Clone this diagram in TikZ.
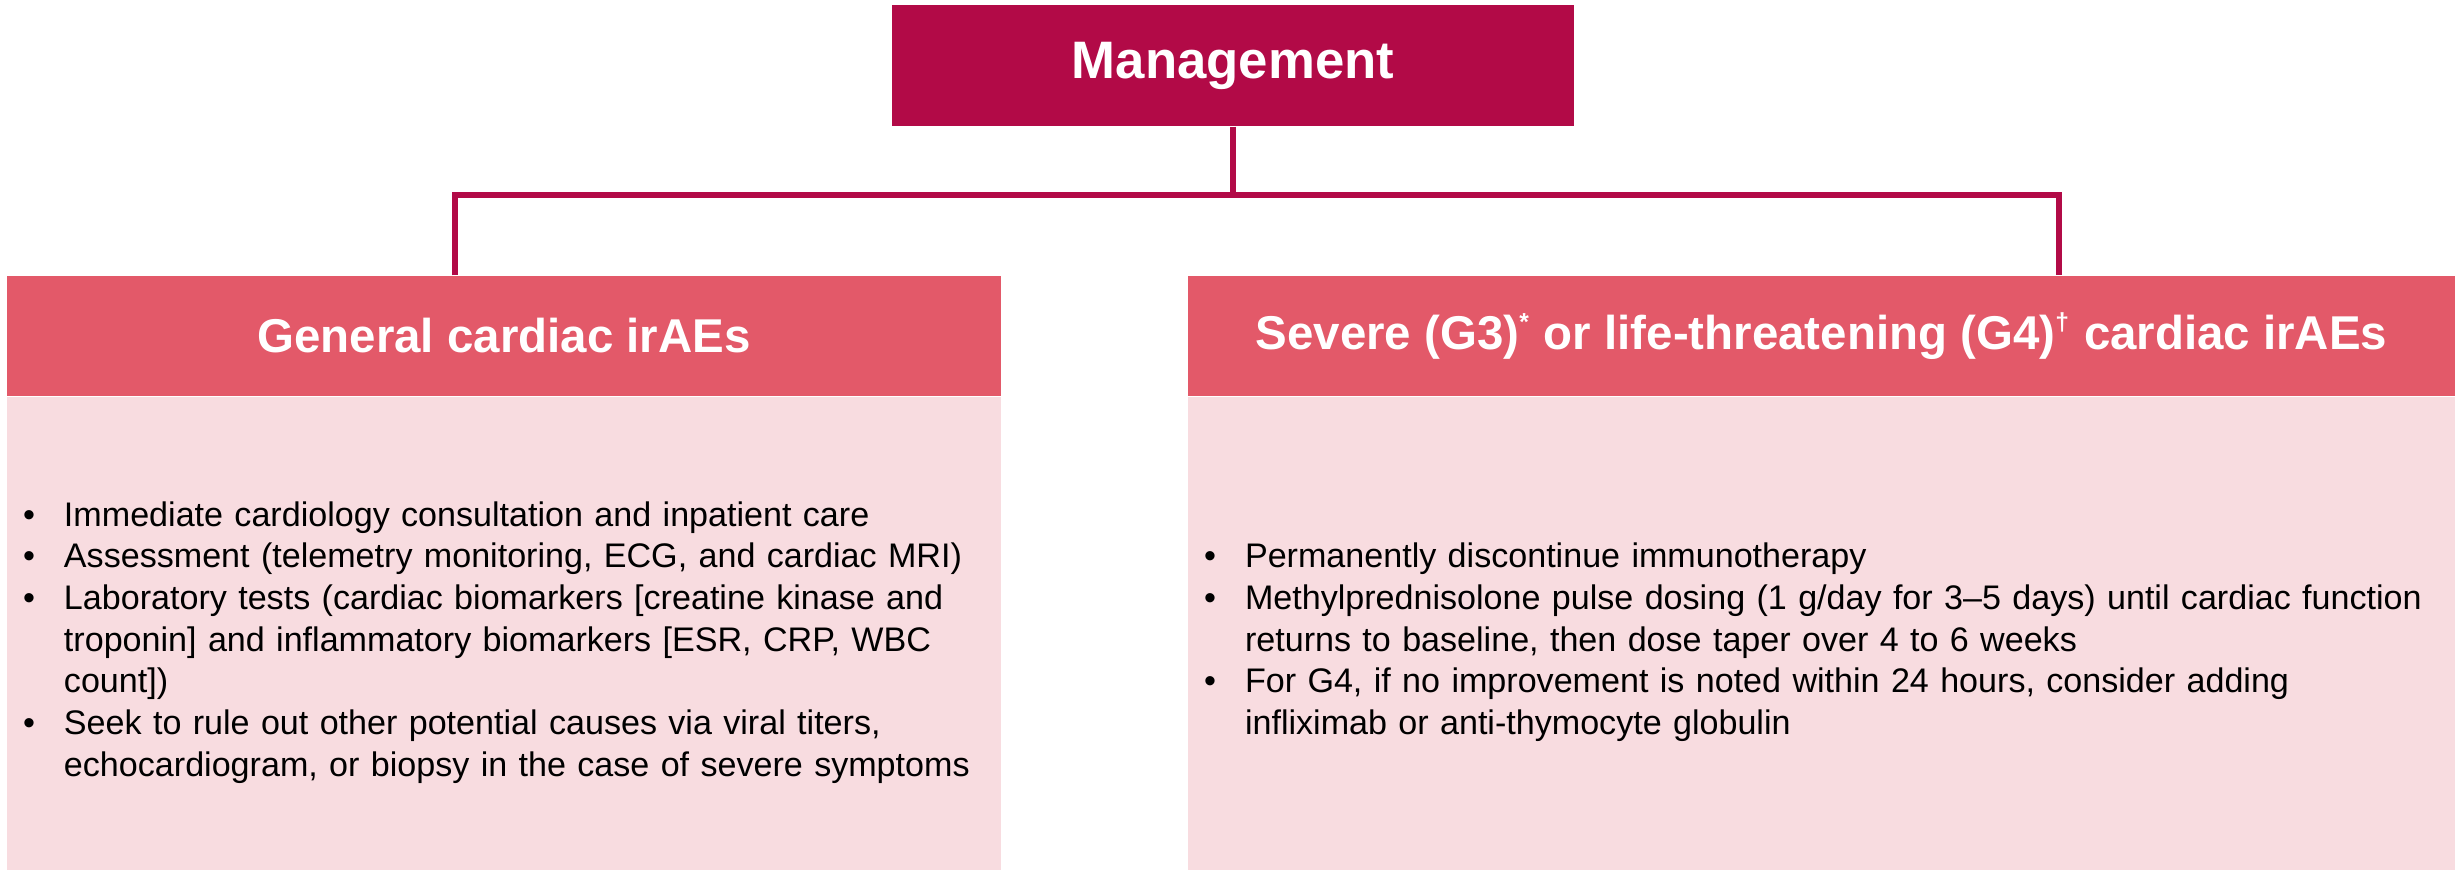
\documentclass[tikz,border=0pt]{standalone}
\usepackage{fontspec}
\setmainfont{Liberation Sans}
\usepackage{enumitem}
\usetikzlibrary{positioning}

\definecolor{mgmtred}{HTML}{B20A47}
\definecolor{headpink}{HTML}{E35969}
\definecolor{bodypink}{HTML}{F8DCE0}

\tikzset{
  topbox/.style={fill=mgmtred, text=white, font=\fontsize{15}{18}\selectfont\bfseries,
    minimum width=6.82cm, minimum height=1.21cm, inner sep=0pt},
  headbox/.style={fill=headpink, text=white, font=\fontsize{13.5}{16}\selectfont\bfseries,
    minimum height=1.20cm, inner sep=0pt},
  bodybox/.style={fill=bodypink, minimum height=4.73cm, inner sep=0pt},
  listtext/.style={anchor=west, inner sep=0pt, align=left,
    font=\fontsize{9.7}{11.85}\selectfont},
  link/.style={draw=mgmtred, line width=1.8pt}
}
\setlist[itemize]{label=\textbullet, leftmargin=0.39cm, labelsep=0.29cm, nosep}

\begin{document}
\begin{tikzpicture}
        \useasboundingbox (0,0) rectangle (24.63,-8.69);
        \node[topbox] (mgmt) at (12.33,-0.655) {Management};
        \node[headbox, minimum width=9.94cm] (general) at (5.04,-3.36) {General cardiac irAEs};
        \node[bodybox, minimum width=9.94cm, below=0pt of general] (generalbody) {};
        \node[headbox, minimum width=12.67cm] (severe) at (18.215,-3.36)
          {Severe (G3)\textsuperscript{\scriptsize*} or life-threatening (G4)\textsuperscript{\scriptsize†} cardiac irAEs};
        \node[bodybox, minimum width=12.67cm, below=0pt of severe] (severebody) {};
        \node[listtext, text width=9.72cm, right=0.18cm of generalbody.west] (generallist) {
          \begin{itemize}
            \item Immediate cardiology consultation and inpatient care
            \item Assessment (telemetry monitoring, ECG, and cardiac MRI)
            \item Laboratory tests (cardiac biomarkers [creatine kinase and\\
              troponin] and inflammatory biomarkers [ESR, CRP, WBC\\
              count])
            \item Seek to rule out other potential causes via viral titers,\\
              echocardiogram, or biopsy in the case of severe symptoms
          \end{itemize}
        };
        \node[listtext, text width=12.35cm, right=0.18cm of severebody.west] (severelist) {
          \begin{itemize}
            \item Permanently discontinue immunotherapy
            \item Methylprednisolone pulse dosing (1 g/day for 3–5 days) until cardiac function\\
              returns to baseline, then dose taper over 4 to 6 weeks
            \item For G4, if no improvement is noted within 24 hours, consider adding\\
              infliximab or anti-thymocyte globulin
          \end{itemize}
        };
        \coordinate (busL) at (4.55,-1.95);
        \coordinate (busR) at (20.59,-1.95);
        \draw[link] (mgmt.south) -- (mgmt.south |- busL);
        \draw[link] (general.north -| busL) -- (busL) -- (busR) -- (severe.north -| busR);
      \end{tikzpicture}
\end{document}
